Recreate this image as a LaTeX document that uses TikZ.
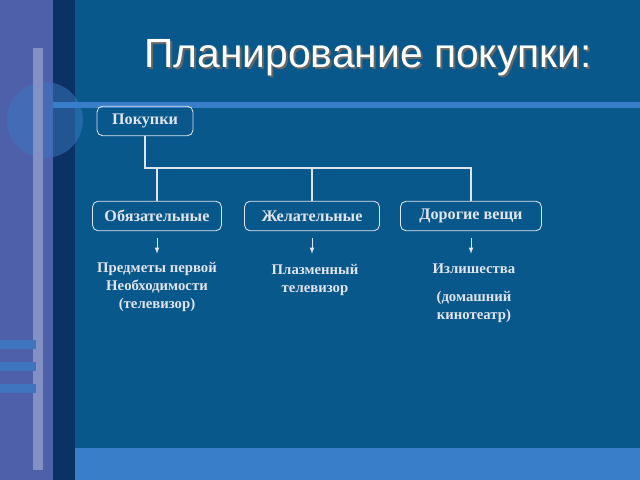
\documentclass[tikz,border=0pt]{standalone}
\usepackage{fontspec}
\setmainfont{Liberation Serif}
\newfontfamily\titlefont{Liberation Sans}
\usetikzlibrary{arrows}
\definecolor{slidebg}{RGB}{8,88,140}
\definecolor{stripbg}{RGB}{78,96,170}
\definecolor{darkstrip}{RGB}{10,50,100}
\definecolor{lightband}{RGB}{56,126,200}
\definecolor{textgrey}{RGB}{225,228,236}
\tikzstyle{box} = [rectangle, draw=textgrey, rounded corners=4pt, line width=0.6pt,
    minimum height=21pt, inner xsep=4pt, text=textgrey, font=\bfseries\fontsize{11.5}{13}\selectfont]
\tikzstyle{note} = [text=textgrey, align=center, font=\bfseries\fontsize{10.5}{13}\selectfont]
\tikzstyle{line} = [draw=textgrey, line width=1.6pt]
\tikzstyle{arrow} = [draw=textgrey, -latex, line width=0.5pt]
\begin{document}
\begin{tikzpicture}[x=0.025cm, y=-0.025cm]
			% background
			\fill[slidebg] (0,0) rectangle (640,480);
			\fill[stripbg] (0,0) rectangle (53,480);
			\fill[darkstrip] (53,0) rectangle (75,480);
			\fill[lightband!80!stripbg, opacity=0.5] (45,120) circle (38);
			\fill[stripbg!70!white] (33,48) rectangle (43,470);
			\foreach \y in {340,362,384}
				\fill[lightband!70!stripbg] (0,\y) rectangle (36,\y+9);
			\fill[lightband] (53,102) rectangle (640,108);
			\fill[lightband] (75,448) rectangle (640,480);
			\node[text=black!60, font=\titlefont\fontsize{29}{32}\selectfont] at (370,60) {Планирование покупки:};
			\node[text=white, font=\titlefont\fontsize{29}{32}\selectfont] (title) at (368,58) {Планирование покупки:};
			% Place nodes
			\node [box, minimum width=96*0.025cm] (purchases) at (145,121) {Покупки};
			\node [box, minimum width=129*0.025cm] (required) at (157,216) {Обязательные};
			\node [box, minimum width=135*0.025cm] (desired) at (312,216) {Желательные};
			\node [box, minimum width=141*0.025cm] (expensive) at (471,216) {Дорогие вещи};
			\node [note] (requiredItems) at (157,287) {Предметы первой\\Необходимости\\(телевизор)};
			\node [note] (desiredItems) at (315,280) {Плазменный\\телевизор};
			\node [note] (expensiveItems) at (474,269) {Излишества};
			\node [note] (expensiveNote) at (474,307) {(домашний\\кинотеатр)};
			\coordinate (fork) at (145,168);
			%
			\path [line] (purchases) -- (fork) -- (fork -| expensive) -- (expensive);
			\path [line] (fork -| required) -- (required);
			\path [line] (fork -| desired) -- (desired);
			\path [arrow] ([yshift=-5pt]required.south) -- +(0,-11pt);
			\path [arrow] ([yshift=-5pt]desired.south) -- +(0,-11pt);
			\path [arrow] ([yshift=-5pt]expensive.south) -- +(0,-11pt);
\end{tikzpicture}
\end{document}
